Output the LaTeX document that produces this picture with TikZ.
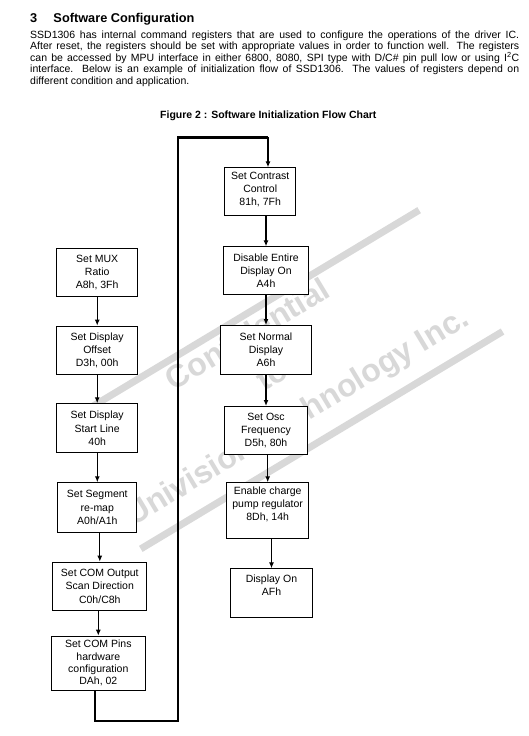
\documentclass[tikz,border=0pt]{standalone}
\usepackage{fontspec}
\setmainfont{Liberation Sans}
\usetikzlibrary{arrows.meta, positioning, calc}

\definecolor{wmgray}{RGB}{216,216,216}

\begin{document}
\begin{tikzpicture}[
    x=1bp, y=1bp,
    >={Latex[length=6bp,width=5bp]},
    every node/.style={align=center},
    stepbox/.style={draw, line width=1bp, fill=white, inner sep=1bp,
                    font=\fontsize{10.5bp}{13.2bp}\selectfont},
    boxsize/.style 2 args={minimum width=#1bp, minimum height=#2bp},
    flow/.style={->, line width=1.2bp},
    loopline/.style={line width=2.4bp},
    wmtext/.style={text=wmgray, anchor=base,
                   font=\fontsize{32bp}{32bp}\selectfont\bfseries},
    wmband/.style={draw=wmgray, line width=7bp}
]

% Page
\path[use as bounding box, fill=white] (0,0) rectangle (529,-736);

% Watermark (first, so the boxes cover it)
\begin{scope}[rotate=31, transform shape]
  \path[wmband] (-150,-396) -- (251,-396);
  \path[wmband] (-162,-543) -- (260,-543);
  \node[wmtext] (wmconf) at (40,-425) {Confidential};
  \node[wmtext] (wmto)   at (40,-472) {to};
  \node[wmtext] (wmfirm) at (40,-520) {Univision Technology Inc.};
\end{scope}

% Section heading and text
\node[font=\fontsize{12.75bp}{15bp}\selectfont\bfseries, anchor=base west,
      inner sep=0] (secnum) at (30,-22.5) {3};
\node[font=\fontsize{12.75bp}{15bp}\selectfont\bfseries, anchor=base west,
      inner sep=0] (sectitle) at (53.3,-22.5) {Software Configuration};

\node[anchor=north west, inner sep=0, text width=489bp, align=justify,
      font=\fontsize{10.5bp}{11.5bp}\selectfont] (intro) at (30,-30.2)
  {\tolerance=10000 SSD1306 has internal command registers that are used to configure the operations of the driver IC.\linebreak
   After reset, the registers should be set with appropriate values in order to function well.  The registers\linebreak
   can be accessed by MPU interface in either 6800, 8080, SPI type with D/C\# pin pull low or using I\textsuperscript{2}C\linebreak
   interface.  Below is an example of initialization flow of SSD1306.  The values of registers depend on\linebreak
   different condition and application.};

\node[font=\fontsize{10.5bp}{12bp}\selectfont\bfseries, anchor=base,
      inner sep=0] (figcap) at (268.3,-118) {Figure 2 : Software Initialization Flow Chart};

% Left column of steps
\node[stepbox, boxsize={81.3}{47.4}] (muxratio)   at (97.2,-272.5) {Set MUX\\Ratio\\A8h, 3Fh};
\node[stepbox, boxsize={81.3}{48.3}] (dispoffset) at (97.2,-350.3) {Set Display\\Offset\\D3h, 00h};
\node[stepbox, boxsize={81.3}{49}]   (startline)  at (97.2,-428.3) {Set Display\\Start Line\\40h};
\node[stepbox, boxsize={79}{49.4}]   (segremap)   at (97.3,-507.5) {Set Segment\\re-map\\A0h/A1h};
\node[stepbox, boxsize={94}{48.3}]   (comscan)    at (99.8,-586.3) {Set COM Output\\Scan Direction\\C0h/C8h};
\node[stepbox, boxsize={94.3}{54}, font=\fontsize{10.5bp}{12.3bp}\selectfont]
                                     (compins)    at (98.3,-663.2) {Set COM Pins\\hardware\\configuration\\DAh, 02};

% Right column of steps
\node[stepbox, boxsize={70.7}{47.7}, text depth=6bp]
                                     (contrast)   at (260.2,-191.7) {Set Contrast\\Control\\81h, 7Fh};
\node[stepbox, boxsize={85.6}{47.7}] (entireon)   at (266,-270.7)   {Disable Entire\\Display On\\A4h};
\node[stepbox, boxsize={90.4}{49}]   (normaldisp) at (266,-350)     {Set Normal\\Display\\A6h};
\node[stepbox, boxsize={82.4}{48}]   (oscfreq)    at (266,-430.5)   {Set Osc\\Frequency\\D5h, 80h};
\node[stepbox, boxsize={82.3}{56}, text depth=14bp]
                                     (chargepump) at (267.7,-510.8) {Enable charge\\pump regulator\\8Dh, 14h};
\node[stepbox, boxsize={81.4}{49}, text depth=16bp]
                                     (displayon)  at (271.5,-593.3) {Display On\\AFh};

% Arrows between steps
\foreach \src/\dst in {muxratio/dispoffset, dispoffset/startline, startline/segremap,
                       segremap/comscan, comscan/compins,
                       contrast/entireon, entireon/normaldisp, normaldisp/oscfreq,
                       oscfreq/chargepump, chargepump/displayon}
  \draw[flow] (\dst.north |- \src.south) -- (\dst.north);

% Return path from the left column to the right one
\coordinate (loopbot) at (177.7,-721);
\coordinate (looptop) at (177.7,-137.3);
\coordinate (loopend) at (268,-137.3);
\draw[loopline] ($(compins.south)+(-3.3,0)$) |- (loopbot) -- (looptop) -- (loopend);
\draw[flow] (loopend) -- (contrast.north -| loopend);

\end{tikzpicture}
\end{document}
